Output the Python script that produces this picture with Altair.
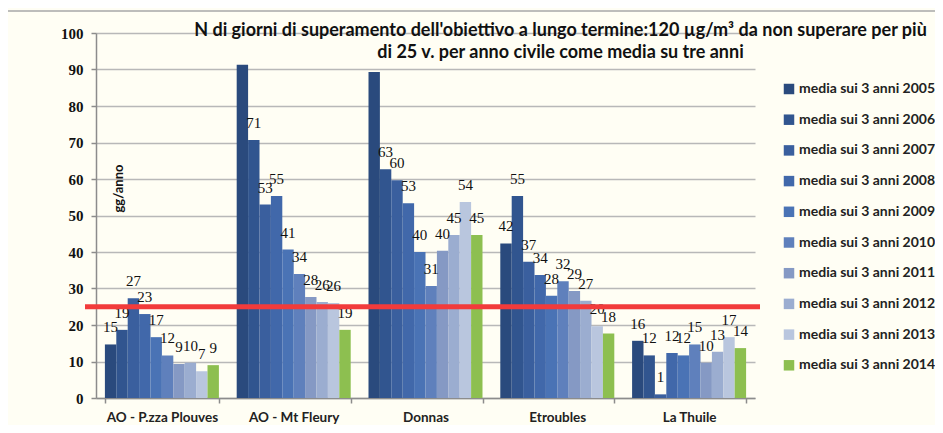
import altair as alt
import pandas as pd

stations = ["AO - P.zza Plouves", "AO - Mt Fleury", "Donnas", "Etroubles", "La Thuile"]
series = [f"media sui 3 anni {y}" for y in range(2005, 2015)]

plouves = [14.67, 18.67, 27.33, 23.0, 16.67, 11.67, 9.33, 9.67, 7.33, 9.0]
mt_fleury = [91.33, 70.67, 53.0, 55.33, 40.67, 34.0, 27.67, 26.33, 26.0, 18.67]
donnas = [89.33, 62.67, 59.67, 53.33, 40.0, 30.67, 40.33, 44.67, 53.67, 44.67]
etroubles = [42.33, 55.33, 37.33, 33.67, 28.0, 32.0, 29.33, 26.67, 19.67, 17.67]
la_thuile = [15.67, 11.67, 1.0, 12.33, 11.67, 14.67, 9.67, 12.67, 16.67, 13.67]

# labels not shown in the reference (tallest bars)
unlabeled = [("AO - Mt Fleury", "media sui 3 anni 2005"), ("Donnas", "media sui 3 anni 2005")]

threshold = [25]
y_ticks = [0, 10, 20, 30, 40, 50, 60, 70, 80, 90, 100]

colors = ["#2a4a7d", "#31558f", "#3a5f9e", "#4168aa", "#4a73b5",
          "#5f80bc", "#8599c4", "#9badd0", "#b9c6de", "#8dbf50"]

title_lines = [
    "N di giorni di superamento dell'obiettivo a lungo termine:120 µg/m³ da non superare per più",
    "di 25 v. per anno civile come media su tre anni",
]

rows = []
for st, vals in zip(stations, [plouves, mt_fleury, donnas, etroubles, la_thuile]):
    for se, v in zip(series, vals):
        rows.append({"station": st, "series": se, "value": v,
                     "show": (st, se) not in unlabeled})
df = pd.DataFrame(rows)

x_enc = alt.X("station:N", sort=stations,
              scale=alt.Scale(paddingInner=0.135, paddingOuter=0.0675),
              axis=alt.Axis(title=None, labelAngle=0, labelFont="Lato", labelFontSize=13.5,
                            labelFontWeight="bold", labelColor="#222", tickBand="extent",
                            tickSize=5, tickColor="#8c8c8c", domainColor="#8c8c8c",
                            domainWidth=1.5, tickWidth=1.5, labelPadding=7, grid=False))
xo_enc = alt.XOffset("series:N", sort=series, scale=alt.Scale(paddingInner=0, paddingOuter=0))
y_axis = alt.Axis(title="gg/anno", titleX=22, titleY=155, titleAngle=270,
                  titleAlign="center", titleBaseline="middle", titleFont="Lato",
                  titleFontSize=13, titleFontWeight="bold", titleColor="#111",
                  values=y_ticks, labelOverlap=False, labelFlush=False,
                  labelFont="Liberation Serif",
                  labelFontSize=15, labelFontWeight="bold", labelColor="#111",
                  tickSize=5, tickColor="#8c8c8c", domainColor="#8c8c8c",
                  domainWidth=1.5, tickWidth=1.5, gridColor="#b8b8b8",
                  gridWidth=1.5, labelPadding=8)
y_scale = alt.Scale(domain=[0, 100])
y_enc = alt.Y("value:Q", scale=y_scale, axis=y_axis)

base = alt.Chart(df).encode(x=x_enc, xOffset=xo_enc, y=y_enc)

bars = base.mark_bar().encode(
    color=alt.Color("series:N", sort=series,
                    scale=alt.Scale(domain=series, range=colors),
                    legend=alt.Legend(title=None, orient="none", legendX=686, legendY=49,
                                      symbolType="square", symbolSize=110,
                                      symbolStrokeWidth=0, symbolOpacity=1,
                                      labelFont="Lato", labelFontSize=14,
                                      labelFontWeight="bold", labelColor="#222",
                                      rowPadding=16.7, labelOffset=3, padding=0))
)

labels = base.transform_filter("datum.show").mark_text(
    font="Liberation Serif", fontSize=15, baseline="alphabetic", dy=-12, color="#111"
).encode(text=alt.Text("value:Q", format=".0f"))

rule = alt.Chart(pd.DataFrame({"value": threshold})).mark_rule(
    color="#f23b3b", strokeWidth=5
).encode(y=alt.Y("value:Q", scale=y_scale, axis=y_axis), x=alt.value(-11), x2=alt.value(664))

frame = alt.Chart(pd.DataFrame({"a": [0]})).mark_rect(
    fillOpacity=0, stroke="#a8a8a8", strokeWidth=1.5
).encode(x=alt.value(-89), x2=alt.value(950), y=alt.value(-22), y2=alt.value(450))

chart = alt.layer(frame, bars, labels, rule).properties(
    width=659, height=365,
    title=alt.TitleParams(text=title_lines, anchor="middle", frame="group", dx=135, dy=56,
                          font="Lato", fontSize=18, fontWeight="bold", lineHeight=22,
                          color="#111"),
    autosize=alt.AutoSizeParams(type="none"),
    padding={"left": 88, "top": 25, "right": 180, "bottom": 27},
    background="#fffef4",
).configure_view(stroke=None)

chart.save("out.html", embed_options={"renderer": "svg", "actions": False})
